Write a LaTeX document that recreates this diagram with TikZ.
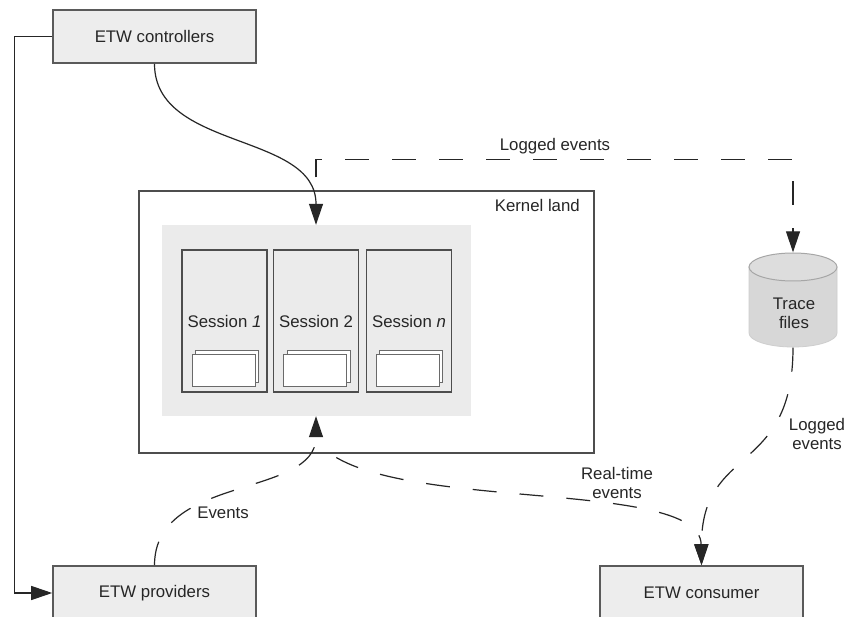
\documentclass[tikz,border=0pt]{standalone}
\usepackage{fontspec}
\setmainfont{Liberation Sans}
\usetikzlibrary{arrows.meta}
\pgfdeclarelayer{paper}
\pgfdeclarelayer{behind}
\pgfsetlayers{paper,behind,main}
\definecolor{boxfill}{HTML}{EDEDED}
\definecolor{boxline}{HTML}{5A5A5A}
\definecolor{ink}{HTML}{262626}
\definecolor{areafill}{HTML}{EBEBEB}
\definecolor{sessline}{HTML}{4D4D4D}
\definecolor{sheetline}{HTML}{6A6A6A}
\definecolor{cylbody}{HTML}{D7D7D7}
\definecolor{cyltop}{HTML}{DDDDDD}
\definecolor{cylline}{HTML}{A6A6A6}

\begin{document}
\begin{tikzpicture}[x=1pt,y=-1pt,
  font=\fontsize{16.8}{19}\selectfont, text=ink,
  box/.style={draw=boxline, line width=1.6pt, fill=boxfill,
    minimum width=203pt, minimum height=53pt, inner sep=0pt},
  kbox/.style={draw=sessline, line width=1.4pt, fill=white,
    minimum width=455pt, minimum height=262pt, inner sep=0pt},
  area/.style={fill=areafill, minimum width=309pt, minimum height=191pt, inner sep=0pt},
  sess/.style={draw=sessline, line width=1.3pt, fill=areafill,
    minimum width=85pt, minimum height=142pt, inner sep=0pt},
  sheet/.style={draw=sheetline, line width=1pt, fill=white,
    minimum width=63pt, minimum height=32pt, inner sep=0pt},
  conn/.style={draw=ink, line width=1.2pt},
  dashconn/.style={conn, dash pattern=on 24pt off 23pt},
  tip/.style={-{Triangle[length=21pt,width=14pt]}},
  lbl/.style={align=center, inner sep=1pt}]

\useasboundingbox (0,0) rectangle (848,617);
\clip (0,0) rectangle (848,617);
\begin{pgfonlayer}{paper}
\fill[white] (0,0) rectangle (848,617);
\end{pgfonlayer}

% outer boxes
\node[box] (ctrl) at (154.5,36.5) {ETW controllers};
\node[box, minimum height=54pt] (prov) at (154.5,593) {ETW providers};
\node[box, minimum height=54pt] (cons) at (701.5,593) {ETW consumer};

% kernel land with the session group
\node[kbox] (kernel) at (366.5,322) {};
\node[anchor=east, inner sep=0pt] (klabel) at (580,205) {Kernel land};
\node[area] (grp) at (316.5,320.5) {};
\node[sess] (s1) at (224.5,321) {Session \textit{1}};
\node[sess] (s2) at (316,321) {Session 2};
\node[sess] (sn) at (409,321) {Session \textit{n}};

% buffer sheets inside each session
\node[sheet] (s1back) at (227,366.5) {};
\node[sheet] (s1front) at (223.5,370) {};
\node[sheet] (s2back) at (318.5,366.5) {};
\node[sheet] (s2front) at (315,370) {};
\node[sheet] (snback) at (411,366.5) {};
\node[sheet] (snfront) at (407.5,370) {};

% trace files cylinder
\node[minimum width=88pt, minimum height=95pt, inner sep=0pt] (trace) at (793,300) {};
\fill[cylbody] (749,267) -- (749,333)
  arc[start angle=180, end angle=0, x radius=44, y radius=14] -- (837,267) -- cycle;
\draw[cylline!55, line width=0.8pt] (749,267) -- (749,333)
  arc[start angle=180, end angle=0, x radius=44, y radius=14] -- (837,267);
\filldraw[fill=cyltop, draw=cylline, line width=1pt] (793,267) ellipse [x radius=44, y radius=14];
\node[lbl] (tracelbl) at (794,313) {Trace\\files};

% labels
\node[lbl] (toplbl) at (555,146) {Logged events};
\node[lbl] (evlbl) at (223,513) {Events};
\node[lbl] (rtlbl) at (617,483) {Real-time\\events};
\node[lbl] (loglbl) at (817,434) {Logged\\events};

% connectors
\coordinate (hub) at (316,440);
\draw[conn, tip] (ctrl.west) -- ++(-37.5,0) |- (prov.west);
\draw[conn, tip] (ctrl.south) .. controls +(0,87) and +(0,-93) .. (grp.north -| s2.north);
\draw[dashconn, tip] (prov.north) .. controls +(0,-91) and +(0,82) .. (grp.south -| s2.south);
\draw[dashconn, tip] (trace.south) .. controls +(0,128) and +(0,-121) .. (cons.north);

\begin{pgfonlayer}{behind}
\draw[dashconn, dash phase=22pt, tip] (s2.north) -- ++(0,-90) -| (trace.north);
\draw[dashconn, dash phase=20pt, tip] (hub) .. controls +(54,76) and +(-1.5,-90) .. (cons.north);
\end{pgfonlayer}
\end{tikzpicture}
\end{document}
